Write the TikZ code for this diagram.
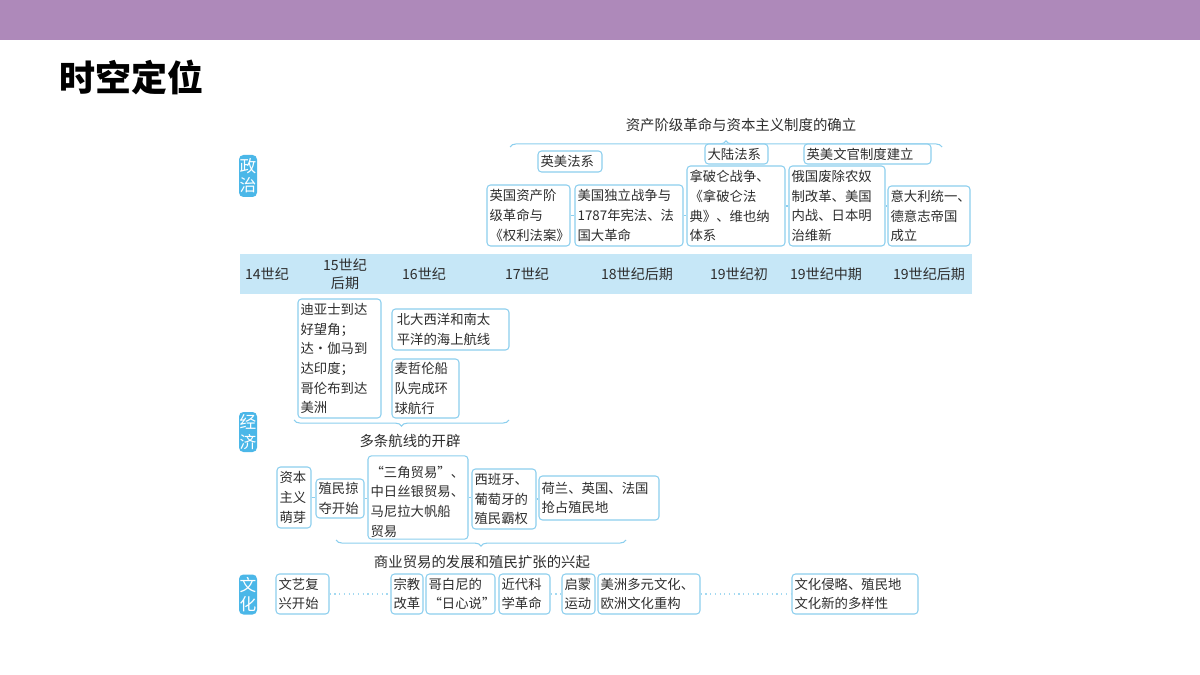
\documentclass[tikz,border=0pt]{standalone}
\usepackage{fontspec}
\setmainfont{Noto Sans CJK SC}
\usetikzlibrary{decorations.pathreplacing}

\definecolor{barpurple}{RGB}{174,137,186}
\definecolor{tagblue}{RGB}{75,183,232}
\definecolor{bandblue}{RGB}{198,231,247}
\definecolor{boxline}{RGB}{140,207,238}
\definecolor{textgray}{RGB}{45,45,45}

\begin{document}
\begin{tikzpicture}[
  x=0.02cm, y=-0.02cm,
  font=\fontsize{7.6}{11.2}\selectfont,
  box/.style={draw=boxline, line width=0.6pt, rounded corners=2pt, fill=white, align=left, inner xsep=1.5pt, inner ysep=1pt, text=textgray},
  bw/.style={minimum width=#1*0.02cm, text width=#1*0.02cm-3pt},
  bh/.style={minimum height=#1*0.02cm},
  tag/.style={fill=tagblue, rounded corners=2.5pt, text=white, font=\fontsize{9.5}{11}\selectfont, minimum width=18*0.02cm, inner sep=0pt, align=center},
  era/.style={font=\fontsize{8}{10.5}\selectfont, text=textgray, align=center},
  bracelab/.style={font=\fontsize{8.2}{10}\selectfont, text=textgray},
  curly/.style={decorate, decoration={brace, amplitude=3.5pt}, draw=boxline, line width=0.6pt},
  boxlink/.style={draw=boxline, line width=0.6pt},
  dotlink/.style={draw=boxline!80, dotted, line width=0.7pt},
]
\useasboundingbox (0,0) rectangle (1200,675);
\fill[white] (0,0) rectangle (1200,675);

% ---------- header ----------
\node[fill=barpurple, minimum width=1200*0.02cm, minimum height=40*0.02cm, inner sep=0pt] (bar) at (600,20) {};
\node[anchor=west, font=\fontsize{20.5}{24}\selectfont\bfseries] (title) at (53,77) {时空定位};

% ---------- row tags ----------
\node[tag, bh=42] (Tpol) at (248,176)   {政\\治};
\node[tag, bh=40] (Teco) at (248,432)   {经\\济};
\node[tag, bh=40] (Tcul) at (248,594.5) {文\\化};

% ---------- timeline band ----------
\node[fill=bandblue, minimum width=732*0.02cm, minimum height=40*0.02cm, inner sep=0pt] (band) at (606,274) {};
\node[era] (y14)  at (267,274) {14世纪};
\node[era] (y15)  at (345,274) {15世纪\\后期};
\node[era] (y16)  at (424,274) {16世纪};
\node[era] (y17)  at (527,274) {17世纪};
\node[era] (y18)  at (637,274) {18世纪后期};
\node[era] (y19a) at (739,274) {19世纪初};
\node[era] (y19b) at (826,274) {19世纪中期};
\node[era] (y19c) at (929,274) {19世纪后期};

% ================= politics =================
\coordinate (PbL) at (510,147);
\coordinate (PbR) at (942,147);
\draw[curly] (PbL) -- (PbR);
\node[bracelab] (Pcap) at (741,125) {资产阶级革命与资本主义制度的确立};

\node[box, bw=64,  bh=21] (Pt1) at (570,161.5) {英美法系};
\node[box, bw=63,  bh=20] (Pt2) at (736.5,154) {大陆法系};
\node[box, bw=127, bh=20] (Pt3) at (867.5,154) {英美文官制度建立};

\node[box, bw=83,  bh=61] (P1) at (528.5,215.5) {英国资产阶\\级革命与\\《权利法案》};
\node[box, bw=108, bh=61] (P2) at (629,215.5)   {美国独立战争与\\1787年宪法、法\\国大革命};
\node[box, bw=98,  bh=80] (P3) at (736,206)     {拿破仑战争、\\《拿破仑法\\典》、维也纳\\体系};
\node[box, bw=96,  bh=80] (P4) at (837,206)     {俄国废除农奴\\制改革、美国\\内战、日本明\\治维新};
\node[box, bw=82,  bh=60] (P5) at (929,216)     {意大利统一、\\德意志帝国\\成立};

\draw[boxlink] (P1.east) -- (P1.east -| P2.west);
\draw[boxlink] (P2.east) -- (P2.east -| P3.west);
\draw[boxlink] (P3.east) -- (P3.east -| P4.west);
\draw[boxlink] (P4.east) -- (P4.east -| P5.west);

% ================= economy =================
\node[box, bw=83,  bh=119] (E1) at (339.5,358.5) {迪亚士到达\\好望角；\\达・伽马到\\达印度；\\哥伦布到达\\美洲};
\node[box, bw=117, bh=41]  (E2) at (450.5,329.5) {\,北大西洋和南太\\\,平洋的海上航线};
\node[box, bw=67,  bh=59]  (E3) at (425.5,388.5) {麦哲伦船\\队完成环\\球航行};

\coordinate (EbL) at (294,420);
\coordinate (EbR) at (509,420);
\draw[curly, decoration={mirror}] (EbL) -- (EbR);
\node[bracelab] (Ecap) at (410,441) {多条航线的开辟};

\node[box, bw=34,  bh=61] (F1) at (294,497.5) {资本\\主义\\萌芽};
\node[box, bw=48,  bh=39] (F2) at (340,498.5) {殖民掠\\夺开始};
\node[box, bw=100, bh=79] (F3) at (418,497.5) {\ “三角贸易”、\\中日丝银贸易、\\马尼拉大帆船\\贸易};
\node[box, bw=64,  bh=60] (F4) at (504,499)   {西班牙、\\葡萄牙的\\殖民霸权};
\node[box, bw=120, bh=44] (F5) at (599,498)   {荷兰、英国、法国\\抢占殖民地};

\draw[boxlink] (F1.east) -- (F1.east -| F2.west);
\draw[boxlink] (F2.east) -- (F2.east -| F3.west);
\draw[boxlink] (F3.east) -- (F3.east -| F4.west);
\draw[boxlink] (F4.east) -- (F4.east -| F5.west);

\coordinate (FbL) at (336,540);
\coordinate (FbR) at (626,540);
\draw[curly, decoration={mirror}] (FbL) -- (FbR);
\node[bracelab] (Fcap) at (482,562) {商业贸易的发展和殖民扩张的兴起};

% ================= culture =================
\node[box, bw=53,  bh=40] (C1) at (302.5,594) {文艺复\\兴开始};
\node[box, bw=32,  bh=40] (C2) at (407,594)   {宗教\\改革};
\node[box, bw=69,  bh=40] (C3) at (460.5,594) {哥白尼的\\“日心说”};
\node[box, bw=51,  bh=40] (C4) at (524.5,594) {近代科\\学革命};
\node[box, bw=33,  bh=40] (C5) at (578.5,594) {启蒙\\运动};
\node[box, bw=102, bh=40] (C6) at (649,594)   {美洲多元文化、\\欧洲文化重构};
\node[box, bw=126, bh=40] (C7) at (855,594)   {文化侵略、殖民地\\文化新的多样性};

\draw[dotlink] (C1) -- (C2);
\draw[dotlink] (C4) -- (C5);
\draw[dotlink] (C6) -- (C7);
\end{tikzpicture}
\end{document}
